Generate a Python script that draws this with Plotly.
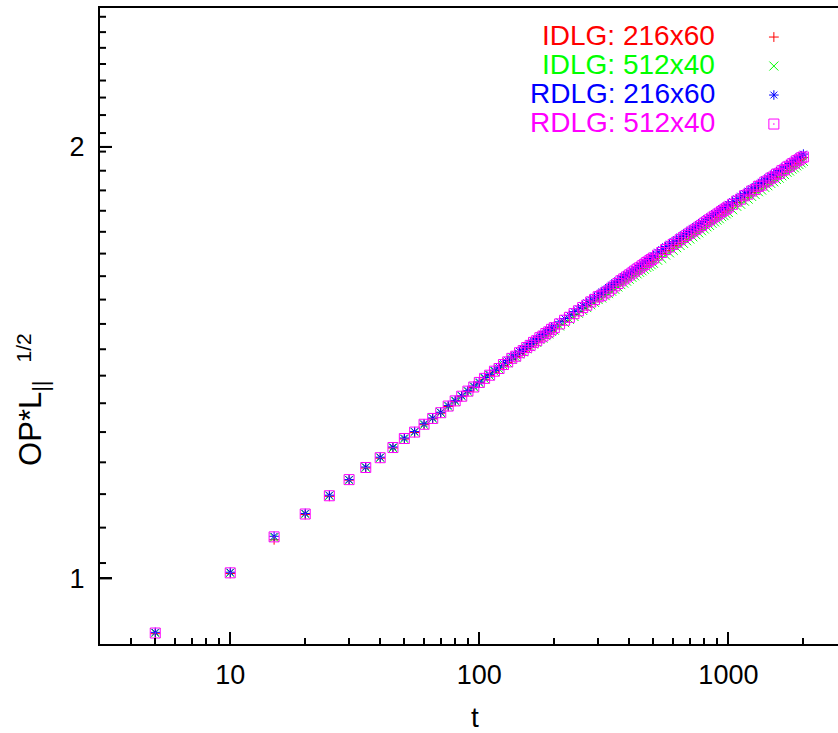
import plotly.graph_objects as go
import math

# time steps
T = [5, 10, 15, 20, 25, 30, 35, 40, 45, 50, 55, 60, 65, 70, 75, 80, 85, 90, 95, 100,
     105, 110, 115, 120, 125, 130, 135, 140, 145, 150, 155, 160, 165, 170, 175, 180, 185, 190, 195, 200,
     210, 220, 230, 240, 250, 260, 270, 280, 290, 300, 310, 320, 330, 340, 350, 360, 370, 380, 390, 400,
     410, 420, 430, 440, 450, 460, 470, 480, 490, 500,
     520, 540, 560, 580, 600, 620, 640, 660, 680, 700, 720, 740, 760, 780, 800, 820, 840, 860, 880, 900,
     920, 940, 960, 980, 1000,
     1040, 1080, 1120, 1160, 1200, 1240, 1280, 1320, 1360, 1400, 1440, 1480, 1520, 1560, 1600, 1640, 1680,
     1720, 1760, 1800, 1840, 1880, 1920, 1960, 2000]

IDLG_216x60 = [0.915, 1.008, 1.064, 1.108, 1.141, 1.171, 1.194, 1.213, 1.233, 1.251, 1.264, 1.280, 1.292, 1.304, 1.318, 1.329, 1.339, 1.350, 1.359, 1.369,
               1.377, 1.385, 1.393, 1.400, 1.408, 1.415, 1.422, 1.428, 1.435, 1.441, 1.447, 1.453, 1.459, 1.464, 1.470, 1.475, 1.480, 1.485, 1.490, 1.495,
               1.503, 1.512, 1.519, 1.528, 1.535, 1.543, 1.549, 1.557, 1.563, 1.570, 1.576, 1.583, 1.588, 1.594, 1.600, 1.605, 1.611, 1.616, 1.621, 1.626,
               1.631, 1.636, 1.641, 1.645, 1.650, 1.654, 1.659, 1.663, 1.667, 1.671,
               1.678, 1.685, 1.693, 1.700, 1.707, 1.713, 1.720, 1.726, 1.732, 1.738, 1.744, 1.749, 1.755, 1.760, 1.766, 1.771, 1.776, 1.781, 1.786, 1.790,
               1.795, 1.800, 1.804, 1.808, 1.813,
               1.821, 1.829, 1.837, 1.845, 1.852, 1.859, 1.866, 1.873, 1.879, 1.886, 1.892, 1.898, 1.904, 1.910, 1.915, 1.921, 1.926,
               1.932, 1.937, 1.942, 1.947, 1.952, 1.957, 1.961, 1.966]

IDLG_512x40 = [0.916, 1.009, 1.068, 1.109, 1.142, 1.171, 1.195, 1.214, 1.233, 1.251, 1.265, 1.280, 1.293, 1.305, 1.318, 1.329, 1.340, 1.350, 1.360, 1.369,
               1.378, 1.385, 1.394, 1.400, 1.408, 1.414, 1.422, 1.427, 1.434, 1.439, 1.446, 1.451, 1.457, 1.461, 1.468, 1.471, 1.477, 1.481, 1.487, 1.490,
               1.500, 1.508, 1.516, 1.523, 1.531, 1.538, 1.545, 1.552, 1.558, 1.565, 1.569, 1.575, 1.580, 1.586, 1.591, 1.597, 1.603, 1.607, 1.612, 1.617,
               1.622, 1.626, 1.631, 1.635, 1.639, 1.643, 1.648, 1.651, 1.655, 1.659,
               1.667, 1.672, 1.681, 1.687, 1.694, 1.701, 1.707, 1.713, 1.720, 1.725, 1.731, 1.737, 1.742, 1.748, 1.753, 1.759, 1.763, 1.769, 1.773, 1.778,
               1.782, 1.788, 1.791, 1.796, 1.800,
               1.808, 1.818, 1.824, 1.833, 1.839, 1.847, 1.853, 1.861, 1.866, 1.874, 1.879, 1.886, 1.891, 1.898, 1.902, 1.909, 1.913,
               1.920, 1.924, 1.930, 1.934, 1.940, 1.944, 1.949, 1.954]

RDLG_216x60 = [0.917, 1.010, 1.070, 1.110, 1.143, 1.172, 1.196, 1.215, 1.235, 1.253, 1.266, 1.282, 1.294, 1.306, 1.320, 1.331, 1.341, 1.352, 1.362, 1.371,
               1.381, 1.388, 1.397, 1.404, 1.412, 1.419, 1.427, 1.432, 1.440, 1.445, 1.452, 1.458, 1.464, 1.469, 1.476, 1.480, 1.486, 1.490, 1.496, 1.500,
               1.510, 1.518, 1.526, 1.535, 1.542, 1.550, 1.557, 1.564, 1.571, 1.578, 1.584, 1.590, 1.596, 1.602, 1.608, 1.613, 1.619, 1.624, 1.629, 1.634,
               1.639, 1.644, 1.649, 1.653, 1.658, 1.662, 1.667, 1.671, 1.675, 1.679,
               1.689, 1.696, 1.704, 1.711, 1.718, 1.724, 1.731, 1.737, 1.743, 1.749, 1.755, 1.760, 1.766, 1.771, 1.777, 1.782, 1.787, 1.792, 1.797, 1.801,
               1.806, 1.811, 1.815, 1.819, 1.824,
               1.832, 1.840, 1.848, 1.856, 1.863, 1.870, 1.877, 1.884, 1.890, 1.897, 1.903, 1.909, 1.915, 1.921, 1.926, 1.932, 1.937,
               1.943, 1.948, 1.953, 1.958, 1.963, 1.968, 1.972, 1.977]

RDLG_512x40 = [0.916, 1.009, 1.069, 1.109, 1.142, 1.172, 1.195, 1.214, 1.234, 1.252, 1.265, 1.281, 1.293, 1.305, 1.319, 1.330, 1.340, 1.351, 1.360, 1.370,
               1.379, 1.386, 1.395, 1.401, 1.410, 1.416, 1.424, 1.429, 1.437, 1.442, 1.449, 1.454, 1.461, 1.465, 1.472, 1.476, 1.482, 1.486, 1.492, 1.496,
               1.505, 1.514, 1.521, 1.530, 1.537, 1.545, 1.551, 1.559, 1.565, 1.572, 1.576, 1.582, 1.587, 1.594, 1.600, 1.606, 1.613, 1.618, 1.623, 1.628,
               1.633, 1.638, 1.643, 1.647, 1.652, 1.656, 1.661, 1.665, 1.669, 1.673,
               1.681, 1.688, 1.696, 1.703, 1.710, 1.716, 1.723, 1.729, 1.735, 1.741, 1.747, 1.752, 1.758, 1.763, 1.769, 1.774, 1.779, 1.784, 1.789, 1.793,
               1.798, 1.803, 1.807, 1.811, 1.816,
               1.824, 1.833, 1.839, 1.849, 1.854, 1.863, 1.868, 1.877, 1.881, 1.890, 1.894, 1.902, 1.906, 1.914, 1.917, 1.925, 1.928,
               1.936, 1.939, 1.946, 1.949, 1.956, 1.959, 1.965, 1.968]

SERIES_NAMES = ["IDLG: 216x60", "IDLG: 512x40", "RDLG: 216x60", "RDLG: 512x40"]
SERIES_DATA = [IDLG_216x60, IDLG_512x40, RDLG_216x60, RDLG_512x40]

X_TICKS = [10, 100, 1000]
X_TICK_TEXT = ["10", "100", "1000"]
X_MINOR = [4, 5, 6, 7, 8, 9, 20, 30, 40, 50, 60, 70, 80, 90, 200, 300, 400, 500, 600, 700, 800, 900, 2000]
Y_TICKS = [1, 2]
Y_TICK_TEXT = ["1", "2"]
Y_MINOR = [1.025, 1.085, 1.145, 1.205, 1.265, 1.325, 1.385, 1.445, 1.505, 1.565, 1.625, 1.685, 1.745,
           1.805, 1.865, 1.925, 1.985, 2.045, 2.105, 2.165, 2.225, 2.285, 2.345, 2.405, 2.465]

COLORS = ["#ff0000", "#00ff00", "#0000ff", "#ff00ff"]
SYMBOLS = ["cross-thin-open", "x-thin-open", "asterisk-open", "square-open-dot"]
SIZES = [7, 9, 8, 10]

FONT = "Liberation Sans, Arial, sans-serif"
YRANGE = [math.log10(0.9), math.log10(2.5)]
L, R, TOP, BOT = 100, 0, 8, 89
W, H = 838, 733
PLOT_W = W - L - R
MAJOR_LEN, MINOR_LEN = 12, 6

fig = go.Figure()
for name, ys, c, s, sz in zip(SERIES_NAMES, SERIES_DATA, COLORS, SYMBOLS, SIZES):
    fig.add_trace(go.Scatter(
        x=T, y=ys, mode="markers", name=" ",
        marker=dict(symbol=s, size=sz, color=c, line=dict(width=1, color=c)),
        showlegend=True, hoverinfo="x+y",
    ))

# y-axis tick marks (inside), placed on the log y scale against a pixel-length helper x axis
tx, ty = [], []
for v in Y_TICKS:
    tx += [0, MAJOR_LEN, None]
    ty += [v, v, None]
for v in Y_MINOR:
    tx += [0, MINOR_LEN, None]
    ty += [v, v, None]
fig.add_trace(go.Scatter(x=tx, y=ty, xaxis="x2", yaxis="y", mode="lines",
                         line=dict(color="black", width=2), showlegend=False,
                         hoverinfo="skip", cliponaxis=False))

fig.update_layout(
    template="none",
    width=W, height=H,
    margin=dict(l=L, r=R, t=TOP, b=BOT, pad=0),
    paper_bgcolor="white", plot_bgcolor="white",
    font=dict(family=FONT, size=27, color="black"),
    showlegend=True,
    legend=dict(x=0.886, y=0.985, xanchor="left", yanchor="top",
                font=dict(size=20), bgcolor="rgba(0,0,0,0)", borderwidth=0,
                itemwidth=30, tracegroupgap=0),
    xaxis=dict(
        type="log", range=[math.log10(3), 3.44],
        showline=True, linecolor="black", linewidth=2, mirror=True,
        showgrid=False, zeroline=False,
        tickmode="array", tickvals=X_TICKS, ticktext=X_TICK_TEXT,
        ticks="inside", ticklen=MAJOR_LEN, tickwidth=2, tickcolor="black",
        tickfont=dict(family=FONT, size=27, color="black"),
        ticklabelstandoff=6,
        minor=dict(tickmode="array", tickvals=X_MINOR, ticks="inside", ticklen=MINOR_LEN,
                   tickwidth=2, tickcolor="black", showgrid=False),
    ),
    xaxis2=dict(range=[0, PLOT_W], overlaying="x", anchor="y", visible=False,
                showgrid=False, zeroline=False, fixedrange=True),
    yaxis=dict(
        type="log", range=YRANGE,
        showline=True, linecolor="black", linewidth=2, mirror=False,
        showgrid=False, zeroline=False,
        tickmode="array", tickvals=Y_TICKS, ticktext=Y_TICK_TEXT,
        ticks="inside", ticklen=MAJOR_LEN, tickwidth=2, tickcolor="black",
        tickfont=dict(family=FONT, size=27, color="black"),
        ticklabelstandoff=8,
    ),
)

# legend labels (gnuplot style: text right-aligned, symbol to the right)
leg_y = [0.9575, 0.9119, 0.8648, 0.8192]
for name, c, yy in zip(SERIES_NAMES, COLORS, leg_y):
    fig.add_annotation(xref="paper", yref="paper", x=0.836, y=yy, xanchor="right", yanchor="middle",
                       text=name, showarrow=False, font=dict(family=FONT, size=28, color=c))

# axis titles
fig.add_annotation(xref="paper", yref="paper", x=0.508, y=-0.1148, xanchor="center", yanchor="middle",
                   text="t", showarrow=False, font=dict(family=FONT, size=28, color="black"))
fig.add_annotation(xref="paper", yref="paper", x=-0.09, y=0.347, xanchor="center", yanchor="middle",
                   text="OP*L<sub>||</sub>", textangle=-90, showarrow=False,
                   font=dict(family=FONT, size=31, color="black"))
fig.add_annotation(xref="paper", yref="paper", x=-0.104, y=0.465, xanchor="center", yanchor="middle",
                   text="1/2", textangle=-90, showarrow=False,
                   font=dict(family=FONT, size=21, color="black"))

fig.write_html("out.html")
